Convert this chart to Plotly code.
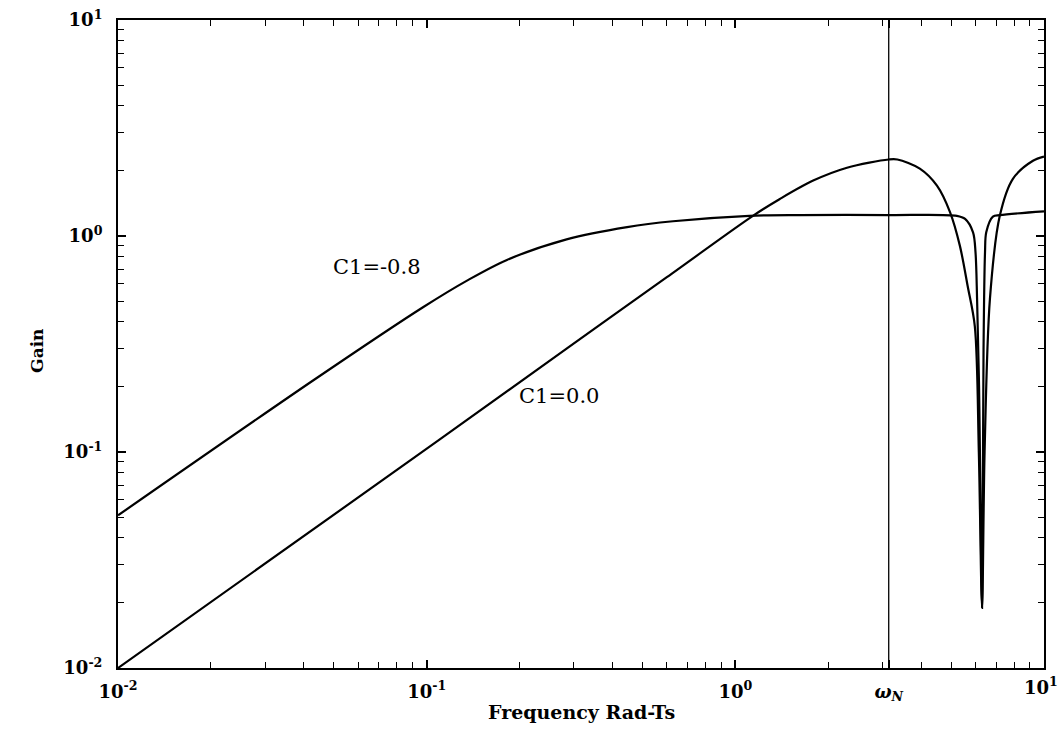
import math
import plotly.graph_objects as go

# Frequency response of the two filter settings (frequency in rad·Ts, gain)
freq_c1_m08 = [0.01, 0.0432, 0.0973, 0.136, 0.182, 0.284, 0.446, 0.628, 1.11, 1.62,
               3.14, 5.22, 5.55, 5.89, 6.00, 6.07, 6.16, 6.30, 6.37, 6.44, 6.50,
               6.83, 7.20, 10.0]
gain_c1_m08 = [0.0509, 0.216, 0.468, 0.625, 0.775, 0.965, 1.10, 1.17, 1.24, 1.25,
               1.25, 1.24, 1.20, 1.04, 0.84, 0.51, 0.20, 0.019, 0.30, 0.84, 1.04,
               1.23, 1.25, 1.30]

freq_c1_00 = [0.01, 0.110, 0.284, 0.60, 1.14, 1.39, 1.78, 2.30, 3.14, 3.35, 3.96,
              4.50, 4.96, 5.34, 5.66, 5.97, 6.15, 6.30, 6.42, 6.68, 7.19, 7.93,
              9.21, 10.0]
gain_c1_00 = [0.01, 0.114, 0.301, 0.645, 1.24, 1.48, 1.80, 2.07, 2.26, 2.26, 2.05,
              1.71, 1.29, 0.90, 0.585, 0.381, 0.10, 0.019, 0.10, 0.51, 1.24, 1.84,
              2.23, 2.33]

OMEGA_N = 3.14  # Nyquist frequency marker

x_tick_vals = [0.01, 0.1, 1, OMEGA_N, 10]
x_tick_text = ["<b>10<sup>-2</sup></b>", "<b>10<sup>-1</sup></b>", "<b>10<sup>0</sup></b>",
               "<b><i>ω</i><sub><i>N</i></sub></b>", "<b>10<sup>1</sup></b>"]
y_tick_vals = [0.01, 0.1, 1, 10]
y_tick_text = ["<b>10<sup>-2</sup></b>", "<b>10<sup>-1</sup></b>",
               "<b>10<sup>0</sup></b>", "<b>10<sup>1</sup></b>"]

curve_labels = [("C1=-0.8", 0.069, 0.718), ("C1=0.0", 0.268, 0.182)]

minor_vals = [m * 10 ** e for e in (-2, -1, 0) for m in range(2, 10)]

FONT = "DejaVu Serif"
line_style = dict(color="black", width=2.2, shape="spline", smoothing=0.9)

fig = go.Figure()
fig.add_trace(go.Scatter(x=freq_c1_m08, y=gain_c1_m08, mode="lines",
                         line=line_style, name="C1=-0.8", showlegend=False))
fig.add_trace(go.Scatter(x=freq_c1_00, y=gain_c1_00, mode="lines",
                         line=line_style, name="C1=0.0", showlegend=False))

fig.add_shape(type="line", xref="x", yref="paper", x0=OMEGA_N, x1=OMEGA_N,
              y0=0, y1=1, line=dict(color="black", width=1.3))

# log axes take annotation positions as log10 values
for text, xv, yv in curve_labels:
    fig.add_annotation(x=math.log10(xv), y=math.log10(yv), xref="x", yref="y",
                       text=text, showarrow=False,
                       font=dict(family=FONT, size=21, color="black"))

# the last x label sits against the page edge, so it is placed right-aligned
fig.add_annotation(x=1.0173, y=-0.006, xref="paper", yref="paper",
                   xanchor="right", yanchor="top", text=x_tick_text[-1],
                   showarrow=False, font=dict(family=FONT, size=18, color="black"))

fig.add_annotation(x=0.5, y=-0.088, xref="paper", yref="paper",
                   text="<b>Frequency Rad-Ts</b>", showarrow=False,
                   font=dict(family=FONT, size=19, color="black"))
fig.add_annotation(x=-0.1, y=0.49, xref="paper", yref="paper",
                   text="<b>Gain</b>", textangle=-90, showarrow=False,
                   font=dict(family=FONT, size=17, color="black"))

axis_common = dict(type="log", range=[-2, 1], showgrid=False, zeroline=False,
                   showline=True, linecolor="black", linewidth=2, mirror="ticks",
                   ticks="inside", ticklen=8, tickwidth=1.5, tickcolor="black",
                   automargin=False,
                   tickfont=dict(family=FONT, size=18, color="black"),
                   minor=dict(tickvals=minor_vals, ticks="inside", ticklen=6,
                              tickwidth=1.2, tickcolor="black", showgrid=False))

fig.update_layout(
    width=1060, height=754,
    margin=dict(l=118, r=16, t=20, b=86),
    paper_bgcolor="white", plot_bgcolor="white",
    xaxis=dict(axis_common, tickvals=x_tick_vals,
               ticktext=x_tick_text[:-1] + [""], ticklabelstandoff=6),
    yaxis=dict(axis_common, tickvals=y_tick_vals, ticktext=y_tick_text,
               ticklabelstandoff=10),
)

fig.write_html("out.html")
